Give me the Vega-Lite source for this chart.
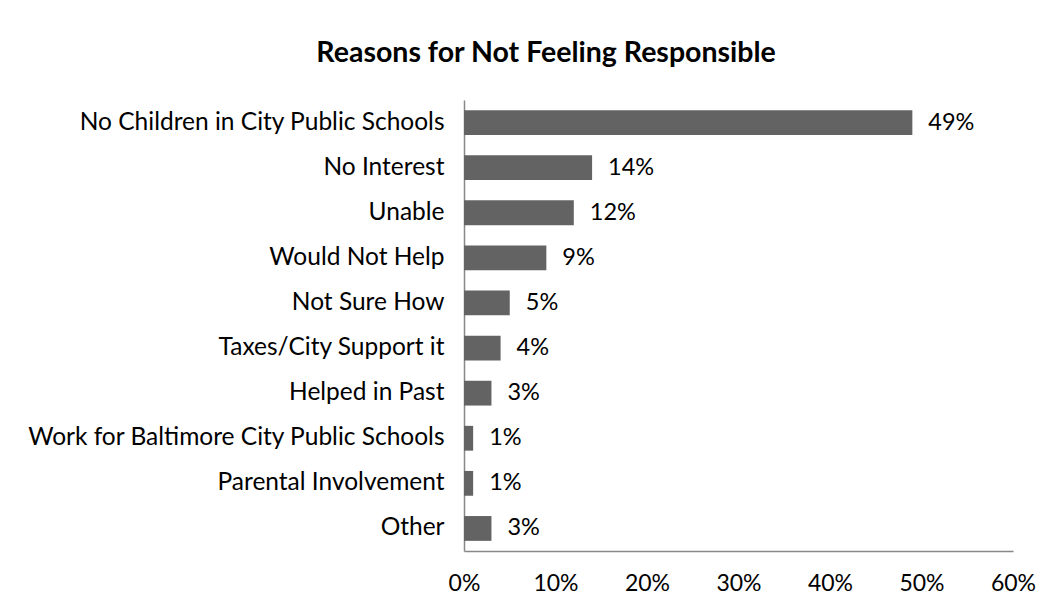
{
  "$schema": "https://vega.github.io/schema/vega-lite/v6.json",
  "width": 549,
  "height": 451,
  "autosize": {"type": "none"},
  "padding": {"left": 464, "top": 100, "right": 43, "bottom": 61},
  "background": "white",
  "title": {
    "text": "Reasons for Not Feeling Responsible",
    "font": "Lato",
    "fontSize": 28.5,
    "fontWeight": "bold",
    "color": "#000000",
    "anchor": "middle",
    "frame": "bounds",
    "dx": 15,
    "offset": 33
  },
  "data": {
    "values": [
      {"reason": "No Children in City Public Schools", "pct": 0.49},
      {"reason": "No Interest\u00a0", "pct": 0.14},
      {"reason": "Unable", "pct": 0.12},
      {"reason": "Would Not Help", "pct": 0.09},
      {"reason": "Not Sure How", "pct": 0.05},
      {"reason": "Taxes/City Support it", "pct": 0.04},
      {"reason": "Helped in Past", "pct": 0.03},
      {"reason": "Work for Baltimore City Public Schools", "pct": 0.01},
      {"reason": "Parental Involvement", "pct": 0.01},
      {"reason": "Other", "pct": 0.03}
    ]
  },
  "encoding": {
    "y": {
      "field": "reason",
      "type": "nominal",
      "sort": null,
      "scale": {"paddingInner": 0.45, "paddingOuter": 0.225},
      "axis": {
        "title": null,
        "ticks": false,
        "domainColor": "#888888",
        "domainWidth": 1.5,
        "labelFont": "Lato",
        "labelFontSize": 24.5,
        "labelColor": "#000000",
        "labelPadding": 20,
        "labelLimit": 600
      }
    },
    "x": {
      "field": "pct",
      "type": "quantitative",
      "scale": {"domain": [0, 0.6], "nice": false},
      "axis": {
        "title": null,
        "format": ".0%",
        "values": [0, 0.1, 0.2, 0.3, 0.4, 0.5, 0.6],
        "grid": false,
        "ticks": false,
        "domainColor": "#888888",
        "domainWidth": 1.5,
        "labelFont": "Lato",
        "labelFontSize": 23,
        "labelColor": "#000000",
        "labelPadding": 21,
        "labelFlush": false
      }
    }
  },
  "layer": [
    {"mark": {"type": "bar", "color": "#636363"}},
    {
      "mark": {"type": "text", "align": "left", "baseline": "middle", "dx": 16, "font": "Lato", "fontSize": 23.5, "color": "#000000"},
      "encoding": {"text": {"field": "pct", "type": "quantitative", "format": ".0%"}}
    }
  ],
  "config": {"view": {"stroke": null}}
}
